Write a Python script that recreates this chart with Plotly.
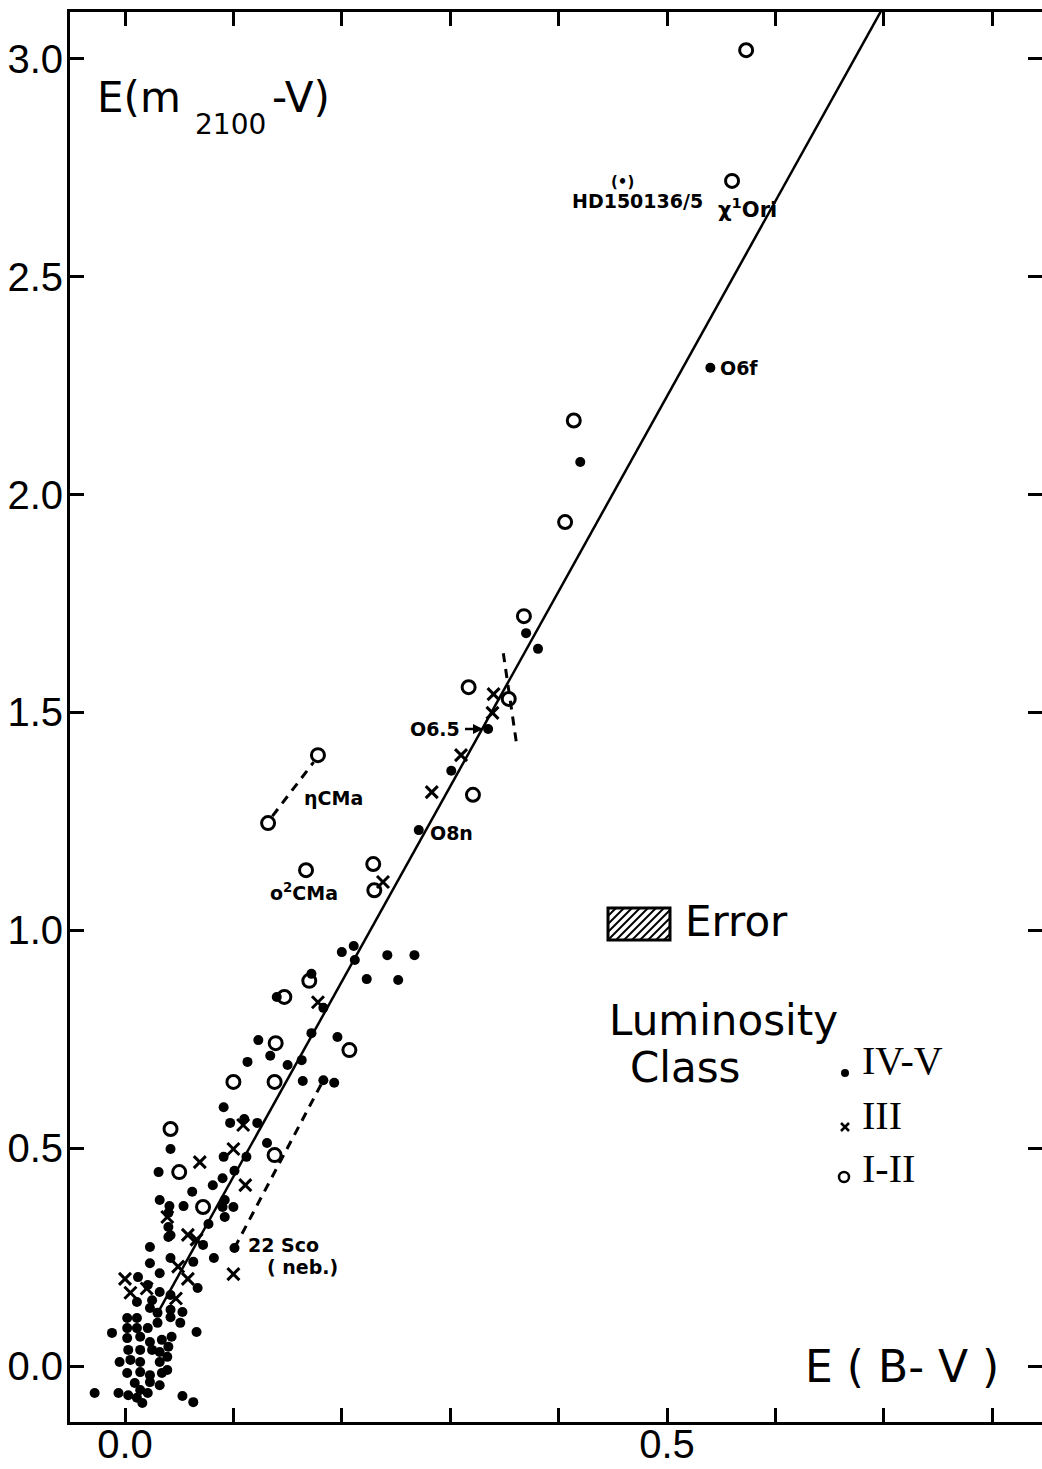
import plotly.graph_objects as go

# ---------------- data ----------------
# Luminosity class IV-V (filled dots)
dwarf_x = [0.540, 0.420, 0.370, 0.381, 0.335, 0.301, 0.271,
           0.200, 0.211, 0.212, 0.242, 0.267, 0.223, 0.252, 0.172, 0.140, 0.183,
           0.172, 0.196, 0.123, 0.134, 0.113, 0.150, 0.163, 0.164, 0.183, 0.193,
           0.091, 0.097, 0.110, 0.122,
           0.042, 0.031, 0.091, 0.112, 0.131, 0.101, 0.090, 0.081, 0.062, 0.032,
           0.054, 0.041, 0.092, 0.090, 0.100, 0.092, 0.077, 0.040, 0.040, 0.040,
           0.023, 0.072, 0.101, 0.082, 0.042, 0.042, 0.023, 0.032, 0.012, 0.063,
           0.067, 0.021, 0.032, 0.011, 0.023, 0.030, 0.042, 0.053, 0.051, 0.002,
           0.011, 0.002, 0.011, 0.021, 0.030, -0.012, 0.066, 0.002, 0.014, 0.023,
           0.034, 0.043, 0.040, 0.003, 0.014, 0.025, 0.032, -0.005, 0.005, 0.014,
           0.032, 0.039, 0.002, 0.014, 0.023, 0.034, 0.039, 0.009, 0.023, 0.032,
           0.014, -0.028, -0.006, 0.003, 0.011, 0.016, 0.021, 0.053, 0.063, 0.042,
           0.025, 0.042]
dwarf_y = [2.291, 2.075, 1.682, 1.646, 1.462, 1.366, 1.230,
           0.950, 0.964, 0.932, 0.943, 0.943, 0.888, 0.886, 0.900, 0.847, 0.822,
           0.764, 0.755, 0.748, 0.712, 0.698, 0.691, 0.702, 0.654, 0.656, 0.650,
           0.594, 0.558, 0.567, 0.558,
           0.498, 0.445, 0.480, 0.480, 0.512, 0.448, 0.431, 0.415, 0.400, 0.381,
           0.367, 0.367, 0.381, 0.365, 0.365, 0.342, 0.326, 0.351, 0.319, 0.296,
           0.273, 0.278, 0.271, 0.248, 0.300, 0.248, 0.236, 0.213, 0.204, 0.239,
           0.179, 0.186, 0.170, 0.147, 0.133, 0.122, 0.129, 0.124, 0.099, 0.110,
           0.110, 0.087, 0.087, 0.087, 0.099, 0.076, 0.078, 0.064, 0.067, 0.055,
           0.060, 0.067, 0.044, 0.037, 0.037, 0.037, 0.032, 0.009, 0.014, 0.009,
           0.009, 0.021, -0.016, -0.014, -0.021, -0.016, -0.009, -0.039, -0.037, -0.044,
           -0.055, -0.062, -0.062, -0.067, -0.073, -0.085, -0.062, -0.069, -0.083, 0.112,
           0.151, 0.163]

# Luminosity class III (crosses)
giant_x = [0.340, 0.339, 0.310, 0.283, 0.238, 0.178, 0.109, 0.100, 0.069, 0.111,
           0.039, 0.058, 0.066, 0.100, 0.049, 0.058, 0.047, 0.000, 0.005, 0.020]
giant_y = [1.542, 1.499, 1.402, 1.317, 1.111, 0.835, 0.553, 0.498, 0.468, 0.415,
           0.342, 0.301, 0.290, 0.211, 0.228, 0.200, 0.155, 0.200, 0.168, 0.178]

# Luminosity class I-II (open circles)
super_x = [0.573, 0.560, 0.414, 0.406, 0.368, 0.317, 0.354, 0.321, 0.178, 0.132,
           0.167, 0.229, 0.230, 0.170, 0.147, 0.207, 0.139, 0.100, 0.138, 0.042,
           0.050, 0.072, 0.138]
super_y = [3.020, 2.720, 2.170, 1.937, 1.721, 1.558, 1.531, 1.311, 1.402, 1.246,
           1.138, 1.152, 1.092, 0.884, 0.847, 0.725, 0.741, 0.652, 0.652, 0.544,
           0.445, 0.365, 0.484]

# mean relation and dashed connectors
fit_x = [0.032, 0.712]
fit_y = [0.130, 3.175]
eta_x = [0.136, 0.174]
eta_y = [1.262, 1.386]
sco_x = [0.101, 0.183]
sco_y = [0.271, 0.656]
bar_x = [0.349, 0.361]
bar_y = [1.636, 1.432]

x_labels = [0.0, 0.5]
x_ticktext = ["0.0", "0.5"]
x_minor_step = 0.1
y_ticks = [0.0, 0.5, 1.0, 1.5, 2.0, 2.5, 3.0]
y_ticktext = ["0.0", "0.5", "1.0", "1.5", "2.0", "2.5", "3.0"]

# ---------------- layout geometry ----------------
W, H = 1042, 1469
ML, MR, MT, MB = 70, 0, 12, 47
X0PX, XSC = 125.0, 1084.0
Y0PX, YSC = 1366.0, 435.7


def X(px):
    return (px - X0PX) / XSC


def Y(py):
    return (Y0PX - py) / YSC


xr = [X(ML), X(W - MR)]
yr = [Y(H - MB), Y(MT)]

TXT = "DejaVu Sans, Liberation Sans, sans-serif"
NUM = "Liberation Sans, Arial, sans-serif"
SERIF = "Liberation Serif, DejaVu Serif, serif"

fig = go.Figure()

fig.add_trace(go.Scatter(x=fit_x, y=fit_y, mode="lines",
                         line=dict(color="black", width=2.5), hoverinfo="skip"))
for xs, ys in [(eta_x, eta_y), (sco_x, sco_y), (bar_x, bar_y)]:
    fig.add_trace(go.Scatter(x=xs, y=ys, mode="lines",
                             line=dict(color="black", width=3, dash="9px,7px"),
                             hoverinfo="skip"))

fig.add_trace(go.Scatter(x=dwarf_x, y=dwarf_y, mode="markers", name="IV-V",
                         marker=dict(symbol="circle", size=10, color="black")))
fig.add_trace(go.Scatter(x=giant_x, y=giant_y, mode="markers", name="III",
                         marker=dict(symbol="x-thin", size=12,
                                     line=dict(color="black", width=3))))
fig.add_trace(go.Scatter(x=super_x, y=super_y, mode="markers", name="I-II",
                         marker=dict(symbol="circle-open", size=13, color="black",
                                     line=dict(color="black", width=3))))

# legend symbols
fig.add_trace(go.Scatter(x=[X(845)], y=[Y(1073)], mode="markers",
                         marker=dict(symbol="circle", size=8, color="black")))
fig.add_trace(go.Scatter(x=[X(845)], y=[Y(1127)], mode="markers",
                         marker=dict(symbol="x-thin", size=8,
                                     line=dict(color="black", width=2.5))))
fig.add_trace(go.Scatter(x=[X(844)], y=[Y(1177)], mode="markers",
                         marker=dict(symbol="circle-open", size=10, color="black",
                                     line=dict(color="black", width=2.5))))

annotations = []


def txt(s, px, py, size, family=TXT, xanchor="left"):
    annotations.append(dict(text=s, x=X(px), y=Y(py), xref="x", yref="y",
                            showarrow=False, xanchor=xanchor, yanchor="middle",
                            font=dict(size=size, family=family, color="black")))


# axis titles
txt("E(m", 95, 97, 42)
txt("2100", 193, 124, 28)
txt("-V)", 270, 97, 42)
txt("E ( B- V )", 803, 1366, 44)

# legend text
txt("Error", 683, 921, 42)
txt("Luminosity", 607, 1020, 42)
txt("Class", 628, 1067, 42)
txt("IV-V", 860, 1060, 40, SERIF)
txt("III", 860, 1115, 40, SERIF)
txt("I-II", 860, 1168, 40, SERIF)

# star labels
B = "DejaVu Sans, sans-serif"
txt("<b>ηCMa</b>", 302, 798, 19, B)
txt("<b>o<sup>2</sup>CMa</b>", 268, 892, 19, B)
txt("<b>O8n</b>", 428, 833, 19, B)
txt("<b>O6.5</b>", 408, 729, 19, B)
txt("<b>O6f</b>", 718, 368, 19, B)
txt("<b>22 Sco</b>", 246, 1245, 19, B)
txt("<b>( neb.)</b>", 265, 1267, 19, B)
txt("<b>HD150136/5</b>", 570, 201, 19, B)
txt("<b>(•)</b>", 622, 182, 15, B, "center")
txt("<b>χ<sup>1</sup>Ori</b>", 716, 208, 21, B)

annotations.append(dict(x=0.333, y=1.462, xref="x", yref="y", ax=-24, ay=0,
                        showarrow=True, arrowhead=2, arrowsize=0.8, arrowwidth=2.5,
                        arrowcolor="black", standoff=3, text=" "))

# hatched "Error" box
bx0, bx1, by0, by1 = 608, 670, 908, 940
shapes = [dict(type="rect", xref="x", yref="y", x0=X(bx0), x1=X(bx1),
               y0=Y(by1), y1=Y(by0), line=dict(color="black", width=3))]
hh = by1 - by0
step = 8
k = bx0 - hh
while k < bx1:
    xa, ya, xb, yb = k, by1, k + hh, by0
    if xa < bx0:
        ya = by1 - (bx0 - xa)
        xa = bx0
    if xb > bx1:
        yb = by0 + (xb - bx1)
        xb = bx1
    if xb - xa > 1:
        shapes.append(dict(type="line", xref="x", yref="y", x0=X(xa), y0=Y(ya),
                           x1=X(xb), y1=Y(yb), line=dict(color="black", width=2)))
    k += step

axis_common = dict(showgrid=False, zeroline=False, showline=True, linecolor="black",
                   linewidth=3, mirror="allticks", ticks="inside", ticklen=14,
                   tickwidth=2.5, tickcolor="black", automargin=False,
                   tickfont=dict(size=40, family=NUM, color="black"))

fig.update_layout(
    width=W, height=H, template="none",
    margin=dict(l=ML, r=MR, t=MT, b=MB, pad=0),
    paper_bgcolor="white", plot_bgcolor="white", showlegend=False,
    xaxis=dict(range=xr, tickvals=x_labels, ticktext=x_ticktext,
               ticklabelstandoff=-15,
               minor=dict(dtick=x_minor_step, tick0=0, ticks="inside", ticklen=14,
                          tickwidth=2.5, tickcolor="black", showgrid=False),
               **axis_common),
    yaxis=dict(range=yr, tickvals=y_ticks, ticktext=y_ticktext,
               ticklabelstandoff=-4, **axis_common),
    annotations=annotations, shapes=shapes,
)

fig.write_html("out.html")
